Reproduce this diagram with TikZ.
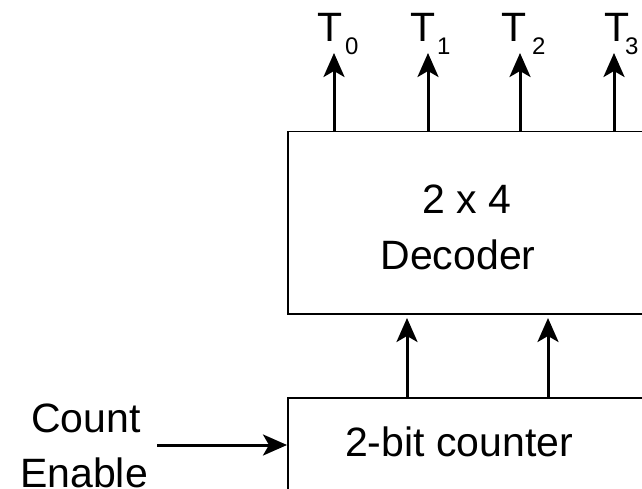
\documentclass[tikz,border=0pt]{standalone}
\usepackage{fontspec}
\setmainfont{Liberation Sans}
\usetikzlibrary{arrows.meta}
\begin{document}
\begin{tikzpicture}[x=1pt,y=-1pt,
  blk/.style={draw=black,line width=1.5pt,rectangle,inner sep=0pt},
  arr/.style={line width=3pt,-{Stealth[length=24pt,width=21pt,inset=6pt]}},
  big/.style={font=\fontsize{41}{48}\selectfont,inner sep=0pt},
  tl/.style={font=\fontsize{41}{48}\selectfont,inner sep=0pt},
  sub/.style={font=\fontsize{24}{28}\selectfont,inner sep=0pt}]
\useasboundingbox (0,0) rectangle (642,489);
\clip (0,0) rectangle (642,489);
% boxes
\node[blk,anchor=north west,minimum width=420pt,minimum height=182pt] (dec) at (287,131) {};
\node[blk,anchor=north west,minimum width=420pt,minimum height=140pt] (cnt) at (287,397) {};
% box texts
\node[big,anchor=base] (d1) at (467,214) {2 x 4};
\node[big,anchor=base] (d2) at (458,269) {Decoder};
\node[big,anchor=base] (c1) at (459,456) {2-bit counter};
% input labels
\node[big,anchor=base] (ce1) at (86,432) {Count};
\node[big,anchor=base] (ce2) at (84,487) {Enable};
% outputs
\foreach \i/\tx/\sx/\ax in {0/330/345/334,1/423/437/428,2/514/532/520,3/617/625/614}{
  \node[tl,anchor=base] (T\i) at (\tx,42) {T};
  \node[sub,anchor=base west] (S\i) at (\sx,55) {\i};
  \coordinate (tip\i) at (\ax,53);
  \draw[arr] (tip\i |- dec.north) -- (tip\i);
}
% counter to decoder
\coordinate (q0) at (407,318);
\coordinate (q1) at (548,318);
\draw[arr] (q0 |- cnt.north) -- (q0);
\draw[arr] (q1 |- cnt.north) -- (q1);
% count enable
\coordinate (ce) at (157,445);
\draw[arr] (ce) -- (ce -| cnt.west);
\end{tikzpicture}
\end{document}
